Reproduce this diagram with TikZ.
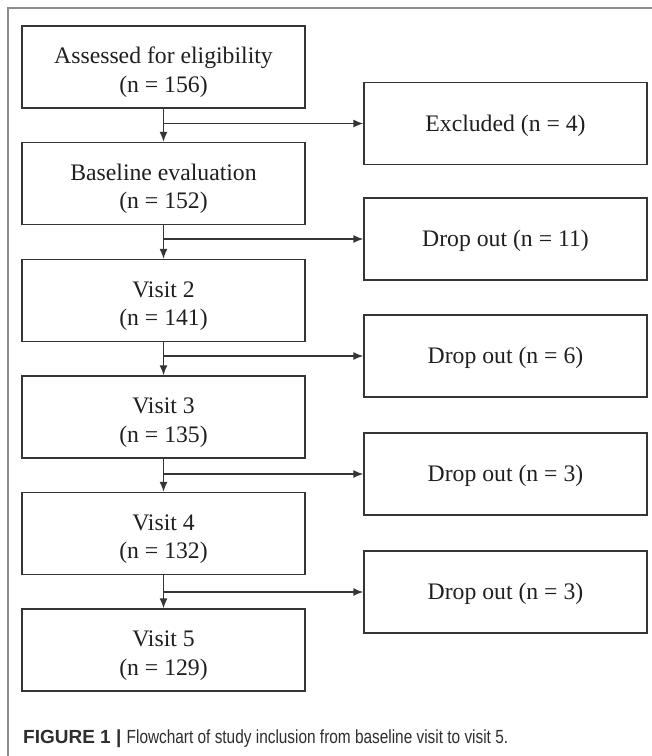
\documentclass[tikz,border=0pt]{standalone}
\usepackage{fontspec}
\setmainfont{Liberation Serif}
\newfontfamily\capfont{Liberation Sans}
\newfontfamily\capnarrow[FakeStretch=0.81]{Liberation Sans}
\usetikzlibrary{arrows.meta}
\definecolor{boxline}{HTML}{353535}
\definecolor{frameline}{HTML}{8C8C8C}
\definecolor{captext}{HTML}{2E2E2E}
\begin{document}
\begin{tikzpicture}[x=1pt,y=-1pt,
  flowbox/.style={draw=boxline,line width=1.4pt,minimum width=283pt,minimum height=82pt,
    inner sep=0pt,align=center,font=\fontsize{23.7}{28.4}\selectfont,text=black!88},
  twoline/.style={flowbox,text height=60pt,text depth=10pt},
  oneline/.style={flowbox,text height=25pt,text depth=10pt},
  flowarrow/.style={draw=boxline,line width=1.4pt,-{Latex[length=10pt,width=8pt]}}]
\useasboundingbox (0,0) rectangle (652,756);
\fill[white] (0,0) rectangle (652,756);
\draw[frameline,line width=1.5pt] (8,756) -- (8,8) -- (652,8);
% left column
\node[twoline] (a1) at (163.5,67) {Assessed for eligibility\\(n = 156)};
\node[twoline] (a2) at (163.5,183.5) {Baseline evaluation\\(n = 152)};
\node[twoline] (a3) at (163.5,300.5) {Visit 2\\(n = 141)};
\node[twoline] (a4) at (163.5,417) {Visit 3\\(n = 135)};
\node[twoline] (a5) at (163.5,533.5) {Visit 4\\(n = 132)};
\node[twoline] (a6) at (163.5,650) {Visit 5\\(n = 129)};
% right column
\node[oneline] (b1) at (505.5,123.5) {Excluded (n = 4)};
\node[oneline] (b2) at (505.5,239) {Drop out (n = 11)};
\node[oneline] (b3) at (505.5,356) {Drop out (n = 6)};
\node[oneline] (b4) at (505.5,474) {Drop out (n = 3)};
\node[oneline] (b5) at (505.5,592) {Drop out (n = 3)};
% connectors
\foreach \i/\j in {1/2,2/3,3/4,4/5,5/6}{
  \draw[flowarrow] (a\i.south) -- (a\j.north);
  \coordinate (c\i) at (a\i.south |- b\i.west);
  \draw[flowarrow] (c\i) -- (b\i.west);
}
% caption
\node[anchor=base west,inner sep=0pt,text=captext,font=\fontsize{19}{22}\selectfont] (cap) at (23,743)
  {\capfont\textbf{FIGURE 1 |} \capnarrow Flowchart of study inclusion from baseline visit to visit 5.};
\end{tikzpicture}
\end{document}
